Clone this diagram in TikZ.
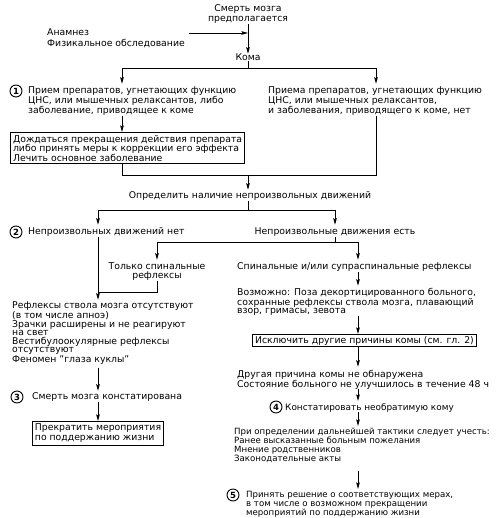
\documentclass[tikz,border=0pt]{standalone}
\usepackage{fontspec}
\setmainfont{DejaVu Sans}
\usetikzlibrary{arrows.meta}

\begin{document}
\begin{tikzpicture}[x=1pt, y=-1pt,
	txt/.style={inner sep=0pt, anchor=north west, align=left, font=\fontsize{9.3}{10}\selectfont},
	ctxt/.style={txt, anchor=north, align=center},
	num/.style={draw, circle, line width=0.9pt, inner sep=0pt, minimum size=12pt, font=\fontsize{8.5}{9}\selectfont\bfseries},
	frame/.style={txt, draw, line width=1.1pt, inner xsep=2.5pt, inner ysep=2.5pt},
	ln/.style={line width=0.8pt},
	arr/.style={ln, -{Stealth[length=6.5pt, width=3.6pt, inset=1pt]}}]
			%%%%% START %%%%%
			
			\useasboundingbox (0, 0) rectangle (497, 518);
			
			\node[ctxt] (start) at (248, 4.7) {Смерть мозга\\предполагается};
			\node[txt, font=\fontsize{9.3}{10.5}\selectfont] (anam) at (47, 28.7) {Анамнез\\Физикальное обследование};
			\node[ctxt] (koma) at (248, 53.7) {Кома};
			
			\node[num] (n1) at (16, 91) {1};
			\node[txt] (prL) at (28, 86.7) {Прием препаратов, угнетающих функцию\\ЦНС, или мышечных релаксантов, либо\\заболевание, приводящее к коме};
			\node[txt] (prR) at (268, 86.7) {Приема препаратов, угнетающих функцию\\ЦНС, или мышечных релаксантов,\\и заболевания, приводящего к коме, нет};
			\node[frame, font=\fontsize{9.3}{9.5}\selectfont] (drug) at (10, 132) {Дождаться прекращения действия препарата\\либо принять меры к коррекции его эффекта\\Лечить основное заболевание};
			
			\node[ctxt] (opr) at (250, 191.7) {Определить наличие непроизвольных движений};
			
			\node[num] (n2) at (16, 232) {2};
			\node[txt] (net) at (28, 227.7) {Непроизвольных движений нет};
			\node[ctxt] (est) at (335, 227.7) {Непроизвольные движения есть};
			
			\node[ctxt, font=\fontsize{9.3}{9}\selectfont] (spin) at (157, 262.7) {Только спинальные\\рефлексы};
			\node[txt] (supra) at (237, 262.7) {Спинальные и/или супраспинальные рефлексы};
			
			\node[txt, font=\fontsize{9.3}{8.5}\selectfont] (refl) at (12, 301.7) {Рефлексы ствола мозга отсутствуют\\(в том числе апноэ)\\Зрачки расширены и не реагируют\\на свет\\Вестибулоокулярные рефлексы\\отсутствуют\\Феномен "глаза куклы"};
			\node[num] (n3) at (17, 397) {3};
			\node[txt] (konst) at (32, 392.7) {Смерть мозга констатирована};
			\node[frame, anchor=north] (stop) at (98, 421) {Прекратить мероприятия\\по поддержанию жизни};
			
			\node[txt, font=\fontsize{9.3}{8.7}\selectfont] (vozm) at (237, 287.7) {Возможно: Поза декортицированного больного,\\сохранные рефлексы ствола мозга, плавающий\\взор, гримасы, зевота};
			\node[frame, inner ysep=1.5pt] (iskl) at (252, 334) {Исключить другие причины комы (см. гл. 2)};
			\node[txt, font=\fontsize{9.3}{9}\selectfont] (other) at (237, 369.7) {Другая причина комы не обнаружена\\Состояние больного не улучшилось в течение 48 ч};
			\node[num] (n4) at (276, 407) {4};
			\node[txt, font=\fontsize{8.9}{9}\selectfont] (irr) at (285, 402.9) {Констатировать необратимую кому};
			\node[txt, font=\fontsize{8.6}{9}\selectfont] (uchet) at (234, 428) {При определении дальнейшей тактики следует учесть:\\Ранее высказанные больным пожелания\\Мнение родственников\\Законодательные акты};
			\node[num] (n5) at (233, 495) {5};
			\node[txt, font=\fontsize{8.6}{9}\selectfont] (resh) at (246, 491) {Принять решение о соответствующих мерах,\\в том числе о возможном прекращении\\мероприятий по поддержанию жизни};
			
			\coordinate (anamend) at (248, 33);
			\coordinate (f1) at (248, 68);
			\coordinate (f1L) at (122, 68);
			\coordinate (f1R) at (376, 68);
			\coordinate (m1) at (248, 175);
			\coordinate (f2) at (248, 210);
			\coordinate (f2L) at (98, 210);
			\coordinate (f2R) at (335, 210);
			\coordinate (f3) at (335, 242);
			\coordinate (f3L) at (157, 242);
			\coordinate (f3R) at (358, 242);
			\coordinate (j3) at (98, 292);
			
			\draw[arr] (start) -- (koma);
			\draw[arr] ([xshift=4pt]anam.east |- anamend) -- (anamend);
			
			\draw[ln] (koma) -- (f1);
			\draw[ln] (f1L) -- (f1R);
			\draw[arr, shorten >=3pt] (f1L) -- (f1L |- prL.north);
			\draw[arr, shorten >=3pt] (f1R) -- (f1R |- prR.north);
			\draw[arr] (f1L |- prL.south) -- (f1L |- drug.north);
			\draw[ln] (f1L |- drug.south) |- (m1);
			\draw[ln] (f1R |- prR.south) |- (m1);
			\draw[arr, shorten >=2pt] (m1) -- (m1 |- opr.north);
			
			\draw[ln] (m1 |- opr.south) -- (f2);
			\draw[ln] (f2L) -- (f2R);
			\draw[arr, shorten >=3pt] (f2L) -- (f2L |- net.north);
			\draw[arr, shorten >=3pt] (f2R) -- (est.north);
			
			\draw[ln] (est.south) -- (f3);
			\draw[ln] (f3L) -- (f3R);
			\draw[arr, shorten >=3pt] (f3L) -- (spin.north);
			\draw[arr, shorten >=3pt] (f3R) -- (f3R |- supra.north);
			
			\draw[ln] (f2L |- net.south) -- (j3);
			\draw[ln] (spin.south) |- (j3);
			\draw[arr, shorten >=2pt] (j3) -- (j3 |- refl.north);
			\draw[arr, shorten <=3pt, shorten >=2pt] (j3 |- refl.south) -- (j3 |- konst.north);
			\draw[arr] (j3 |- konst.south) -- (stop.north);
			
			\draw[arr, shorten >=2pt] (f3R |- supra.south) -- (f3R |- vozm.north);
			\draw[arr] (f3R |- vozm.south) -- (f3R |- iskl.north);
			\draw[arr, shorten >=3pt] (f3R |- iskl.south) -- (f3R |- other.north);
			\draw[arr, shorten >=2pt] (f3R |- other.south) -- (f3R |- irr.north);
			\draw[arr, shorten >=2pt] (f3R |- irr.south) -- (f3R |- uchet.north);
			\draw[arr, shorten <=8pt, shorten >=2pt] (f3R |- uchet.south) -- (f3R |- resh.north);
			
			%%%%% END %%%%%
\end{tikzpicture}
\end{document}
